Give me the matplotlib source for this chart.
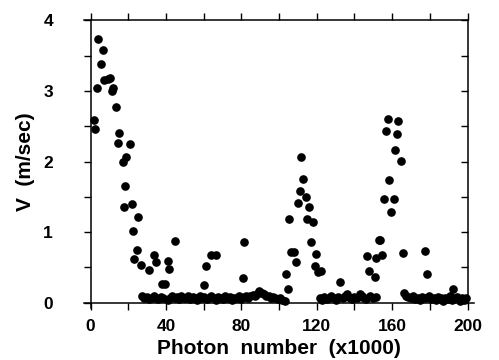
import matplotlib
matplotlib.use('Agg')
import matplotlib.pyplot as plt
from matplotlib.ticker import MultipleLocator

plt.rcParams['font.family'] = ['Liberation Sans', 'DejaVu Sans']
plt.rcParams['font.weight'] = 'bold'

# photon number (x1000) and velocity (m/sec)
peak1_x = [1.6, 2.4, 3.2, 4.0, 5.6, 6.5, 7.0, 9.1, 10.2, 11.2, 11.9, 13.4, 14.4, 15.0,
           17.1, 18.8, 20.8, 18.3, 17.6, 21.8, 25.3, 22.7, 24.8, 23.2, 26.7, 31.0,
           33.6, 34.7, 37.7, 39.5, 41.2, 41.7, 44.8]
peak1_v = [2.59, 2.46, 3.05, 3.74, 3.39, 3.58, 3.15, 3.17, 3.18, 3.00, 3.05, 2.78, 2.27, 2.40,
           2.00, 2.07, 2.25, 1.66, 1.36, 1.40, 1.22, 1.02, 0.75, 0.62, 0.54, 0.47,
           0.67, 0.57, 0.27, 0.27, 0.59, 0.48, 0.875]

mid_x = [60.1, 61.0, 63.8, 66.5, 80.9, 81.6]
mid_v = [0.25, 0.52, 0.67, 0.67, 0.355, 0.865]

peak2_x = [103.9, 104.8, 105.3, 106.5, 108.0, 108.8, 110.0, 111.0, 111.8, 112.7, 114.1,
           115.0, 115.7, 116.8, 118.0, 118.9, 119.8, 120.9, 122.1, 132.5]
peak2_v = [0.40, 0.19, 1.18, 0.72, 0.72, 0.57, 1.41, 1.58, 2.06, 1.75, 1.50,
           1.18, 1.35, 0.865, 1.14, 0.525, 0.69, 0.43, 0.445, 0.29]

peak3_x = [142.7, 146.8, 147.7, 151.0, 151.6, 152.8, 153.8, 154.8, 155.5, 156.7, 157.6,
           158.6, 159.2, 160.8, 161.6, 162.5, 163.2, 164.8, 165.7, 166.2, 177.7, 178.6, 192.5]
peak3_v = [0.13, 0.66, 0.45, 0.36, 0.63, 0.89, 0.89, 0.68, 1.475, 2.43, 2.60,
           1.74, 1.29, 1.475, 2.17, 2.39, 2.58, 2.01, 0.70, 0.14, 0.73, 0.40, 0.19]

base1_x = [27.5, 28.6, 29.8, 31.2, 32.4, 33.5, 34.9, 36.0, 37.3, 38.5, 41.0, 42.2, 43.3,
           44.6, 45.8, 47.0, 48.1, 49.5, 50.7, 51.8, 53.0, 54.3, 55.5, 56.7, 57.9, 59.2,
           60.4, 61.6, 62.8, 64.0, 65.3, 66.5, 67.7, 68.9, 70.2, 71.4, 72.6, 73.8, 75.0,
           76.3, 77.5, 78.7, 79.9, 81.2, 82.4, 83.6, 84.8, 86.0, 87.2, 88.4, 89.6, 90.8,
           92.0, 93.3, 94.5, 95.7, 96.9, 98.1, 99.4, 100.6, 101.8, 103.0]
base1_v = [0.10, 0.06, 0.08, 0.05, 0.07, 0.09, 0.06, 0.05, 0.08, 0.06, 0.04, 0.07, 0.10,
           0.06, 0.08, 0.05, 0.09, 0.07, 0.06, 0.10, 0.05, 0.08, 0.07, 0.04, 0.09, 0.06,
           0.08, 0.05, 0.07, 0.10, 0.06, 0.04, 0.08, 0.07, 0.05, 0.09, 0.06, 0.08, 0.04,
           0.07, 0.06, 0.09, 0.05, 0.08, 0.10, 0.07, 0.09, 0.11, 0.10, 0.13, 0.16, 0.14,
           0.12, 0.10, 0.09, 0.07, 0.08, 0.06, 0.05, 0.07, 0.04, 0.03]

base2_x = [121.5, 122.8, 124.0, 125.3, 126.5, 127.8, 129.0, 130.3, 131.5, 133.8, 135.0,
           136.3, 137.5, 138.8, 140.0, 141.3, 143.8, 145.0, 146.3, 148.5, 149.8, 151.3]
base2_v = [0.06, 0.04, 0.08, 0.05, 0.07, 0.10, 0.06, 0.04, 0.08, 0.06, 0.09,
           0.12, 0.07, 0.05, 0.08, 0.06, 0.10, 0.07, 0.05, 0.09, 0.06, 0.08]

base3_x = [167.3, 168.5, 169.8, 171.0, 172.3, 173.5, 174.8, 176.0, 177.3, 179.5, 180.8,
           182.0, 183.3, 184.5, 185.8, 187.0, 188.3, 189.5, 190.8, 192.0, 193.3, 194.5,
           195.8, 197.0, 198.3, 199.3]
base3_v = [0.10, 0.08, 0.06, 0.09, 0.05, 0.07, 0.04, 0.08, 0.06, 0.09, 0.05,
           0.07, 0.04, 0.08, 0.06, 0.03, 0.07, 0.05, 0.09, 0.04, 0.06, 0.08,
           0.03, 0.06, 0.04, 0.07]

xs = peak1_x + mid_x + peak2_x + peak3_x + base1_x + base2_x + base3_x
vs = peak1_v + mid_v + peak2_v + peak3_v + base1_v + base2_v + base3_v

fig = plt.figure(figsize=(4.99, 3.6), dpi=100)
ax = fig.add_axes([0.1814, 0.1592, 0.7555, 0.7839])

ax.plot(xs, vs, 'o', color='black', ms=5.2, mec='black', clip_on=False, zorder=3)

ax.set_xlim(0, 200)
ax.set_ylim(0, 4)
ax.xaxis.set_major_locator(MultipleLocator(40))
ax.xaxis.set_minor_locator(MultipleLocator(20))
ax.yaxis.set_major_locator(MultipleLocator(1))
ax.yaxis.set_minor_locator(MultipleLocator(0.5))

for s in ax.spines.values():
    s.set_linewidth(1.1)
ax.spines['bottom'].set_bounds(-3.5, 203.5)
ax.spines['top'].set_bounds(-3.5, 200)
ax.spines['left'].set_bounds(-0.08, 4.0)

ax.tick_params(axis='x', which='both', top=True, bottom=True, direction='out',
               length=5, width=1, labelsize=12.5, pad=7)
ax.tick_params(axis='y', which='both', left=True, right=False, direction='out',
               length=5, width=1, labelsize=12.5, pad=22)

# right side ticks point inward
ax2 = ax.twinx()
ax2.set_ylim(0, 4)
ax2.yaxis.set_major_locator(MultipleLocator(0.5))
ax2.tick_params(axis='y', direction='in', length=5, width=1, labelright=False)
for s in ax2.spines.values():
    s.set_visible(False)

ax.set_xlabel('Photon  number  (x1000)', fontsize=15, fontweight='bold', labelpad=3)
ax.set_ylabel('V  (m/sec)', fontsize=15, fontweight='bold', labelpad=6)

fig.savefig('out.png', dpi=100)
